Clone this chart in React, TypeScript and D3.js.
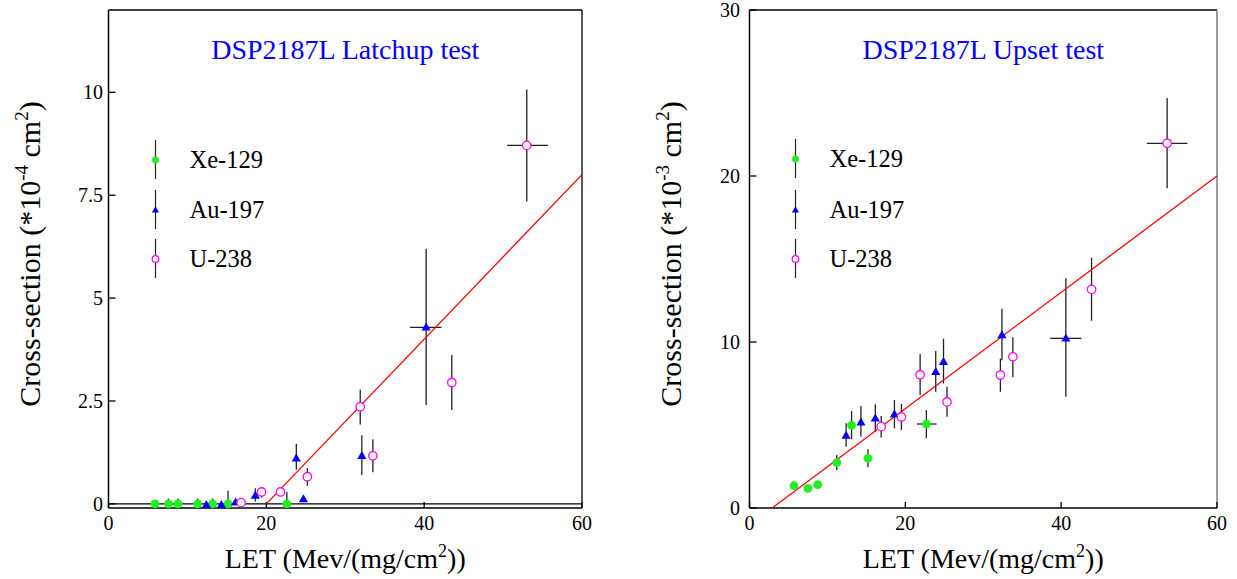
import React from "react";
import * as d3 from "d3";

type Pt = { x: number; y: number; lo?: number; hi?: number; xl?: number; xh?: number };

// ---------- Latchup (x10^-4 cm^2) ----------
const latchXe: Pt[] = [
  { x: 5.9, y: 0 },
  { x: 7.6, y: 0, lo: 0, hi: 0.13 },
  { x: 8.8, y: 0, lo: 0, hi: 0.13 },
  { x: 11.3, y: 0, lo: 0, hi: 0.13 },
  { x: 13.2, y: 0, lo: 0, hi: 0.13 },
  { x: 15.15, y: 0, lo: 0, hi: 0.32 },
  { x: 22.6, y: 0, lo: 0, hi: 0.29 },
];
const latchAu: Pt[] = [
  { x: 12.4, y: -0.02 },
  { x: 14.3, y: -0.02 },
  { x: 16.1, y: 0.04 },
  { x: 18.6, y: 0.2, lo: 0.06, hi: 0.38 },
  { x: 23.8, y: 1.11, lo: 0.83, hi: 1.46 },
  { x: 24.7, y: 0.12 },
  { x: 32.1, y: 1.17, lo: 0.7, hi: 1.67 },
  { x: 40.25, y: 4.29, lo: 2.4, hi: 6.2, xl: 38.2, xh: 42.2 },
];
const latchU: Pt[] = [
  { x: 16.8, y: 0.03 },
  { x: 19.4, y: 0.29, lo: 0.15, hi: 0.39 },
  { x: 21.8, y: 0.29, lo: 0.2, hi: 0.39 },
  { x: 25.2, y: 0.66, lo: 0.44, hi: 0.87 },
  { x: 31.9, y: 2.36, lo: 1.93, hi: 2.78 },
  { x: 33.5, y: 1.17, lo: 0.77, hi: 1.57 },
  { x: 43.5, y: 2.95, lo: 2.28, hi: 3.62 },
  { x: 53.0, y: 8.71, lo: 7.35, hi: 10.07, xl: 50.5, xh: 55.7 },
];
const latchFit: [number, number][] = [[20, 0], [60, 8]];
const latchYTicks = [0, 2.5, 5, 7.5, 10];

// ---------- Upset (x10^-3 cm^2) ----------
const upsetXe: Pt[] = [
  { x: 5.7, y: 1.34 },
  { x: 7.5, y: 1.18 },
  { x: 8.75, y: 1.41 },
  { x: 11.2, y: 2.73, lo: 2.29, hi: 3.19 },
  { x: 13.1, y: 4.98, lo: 4.14, hi: 5.84 },
  { x: 15.2, y: 2.99, lo: 2.45, hi: 3.54 },
  { x: 22.7, y: 5.06, lo: 4.2, hi: 5.9, xl: 21.5, xh: 24.0 },
];
const upsetAu: Pt[] = [
  { x: 12.4, y: 4.36, lo: 3.69, hi: 5.1 },
  { x: 14.3, y: 5.16, lo: 4.3, hi: 6.14 },
  { x: 16.15, y: 5.4, lo: 4.6, hi: 6.25 },
  { x: 18.6, y: 5.64, lo: 4.8, hi: 6.5 },
  { x: 23.9, y: 8.21, lo: 7.0, hi: 9.46 },
  { x: 24.9, y: 8.81, lo: 7.5, hi: 10.2 },
  { x: 32.4, y: 10.42, lo: 8.9, hi: 12.0 },
  { x: 40.6, y: 10.22, lo: 6.7, hi: 13.84, xl: 38.6, xh: 42.6 },
];
const upsetU: Pt[] = [
  { x: 16.9, y: 4.9, lo: 4.24, hi: 5.54 },
  { x: 19.5, y: 5.48, lo: 4.7, hi: 6.27 },
  { x: 21.9, y: 8.03, lo: 6.8, hi: 9.28 },
  { x: 25.35, y: 6.39, lo: 5.5, hi: 7.3 },
  { x: 32.2, y: 8.01, lo: 7.0, hi: 9.0 },
  { x: 33.8, y: 9.11, lo: 7.87, hi: 10.28 },
  { x: 43.9, y: 13.17, lo: 11.28, hi: 15.08 },
  { x: 53.6, y: 21.97, lo: 19.26, hi: 24.7, xl: 51.0, xh: 56.2 },
];
const upsetFit: [number, number][] = [[2.9, 0], [60, 20]];
const upsetYTicks = [0, 10, 20, 30];

const xTicks = [0, 20, 40, 60];
const legendNames = ["Xe-129", "Au-197", "U-238"];

const FONT = "'Liberation Serif', 'Times New Roman', serif";
const GREEN = "#22ee22";
const BLUE = "#0000ff";
const MAGENTA = "#ff00ff";

function Marker({ kind, cx, cy, s = 1 }: { kind: number; cx: number; cy: number; s?: number }) {
  if (kind === 0) return <circle cx={cx} cy={cy} r={4.4 * s} fill={GREEN} />;
  if (kind === 1) {
    const w = 4.6 * s, h = 8 * s;
    return (
      <path
        d={`M${cx},${cy - h * 0.6} L${cx + w},${cy + h * 0.4} L${cx - w},${cy + h * 0.4} Z`}
        fill={BLUE}
      />
    );
  }
  return <circle cx={cx} cy={cy} r={4.2 * s} fill="white" stroke={MAGENTA} strokeWidth={1.3} />;
}

function Panel(props: {
  left: number; right: number; top: number; bottom: number;
  yDomain: [number, number]; yTicks: number[]; yTickFmt: (v: number) => string;
  series: Pt[][]; fit: [number, number][]; title: string; exp: string;
  zeroLine: boolean; legendX: number; legendY: number[]; tickLabelEnd: number;
  rightEdgeColor: string;
}) {
  const x = d3.scaleLinear().domain([0, 60]).range([props.left, props.right]);
  const y = d3.scaleLinear().domain(props.yDomain).range([props.bottom, props.top]);
  const line = d3.line<[number, number]>().x((d) => x(d[0])).y((d) => y(d[1]));
  const cxMid = (props.left + props.right) / 2;
  return (
    <g>
      {/* frame */}
      <line x1={props.left} x2={props.right} y1={props.top} y2={props.top} stroke="#000" strokeWidth={1.3} />
      <line x1={props.right} x2={props.right} y1={props.top} y2={props.bottom} stroke={props.rightEdgeColor} strokeWidth={1.3} />
      <line x1={props.left} x2={props.left} y1={props.top} y2={props.bottom} stroke="#000" strokeWidth={1.5} />
      <line x1={props.left} x2={props.right} y1={props.bottom} y2={props.bottom} stroke="#000" strokeWidth={1.5} />
      {props.zeroLine && (
        <line x1={props.left} x2={props.right} y1={y(0)} y2={y(0)} stroke="#000" strokeWidth={1.3} />
      )}
      {/* y ticks */}
      {props.yTicks.map((t) => (
        <g key={"y" + t}>
          <line x1={props.left} x2={props.left + 7} y1={y(t)} y2={y(t)} stroke="#000" strokeWidth={1.3} />
          <text x={props.tickLabelEnd} y={y(t)} dy="0.35em" textAnchor="end" fontSize={20} fontFamily={FONT}>
            {props.yTickFmt(t)}
          </text>
        </g>
      ))}
      {/* x ticks */}
      {xTicks.map((t) => (
        <g key={"x" + t}>
          <line x1={x(t)} x2={x(t)} y1={props.bottom} y2={props.bottom - 6} stroke="#000" strokeWidth={1.3} />
          <text x={x(t)} y={props.bottom + 22} textAnchor="middle" fontSize={20} fontFamily={FONT}>
            {t}
          </text>
        </g>
      ))}
      {/* title */}
      <text x={cxMid} y={59} textAnchor="middle" fontSize={28} fill={BLUE} fontFamily={FONT}>
        {props.title}
      </text>
      {/* axis labels */}
      <text x={cxMid} y={568} textAnchor="middle" fontSize={28} fontFamily={FONT}>
        LET (Mev/(mg/cm<tspan dy={-11} fontSize={18}>2</tspan><tspan dy={11}>))</tspan>
      </text>
      <text
        transform={`translate(${props.left - 69},${(props.top + props.bottom) / 2 - 5}) rotate(-90)`}
        textAnchor="middle"
        fontSize={30}
        fontFamily={FONT}
      >
        Cross-section (*10<tspan dy={-12} fontSize={19}>{props.exp}</tspan>
        <tspan dy={12}> cm</tspan>
        <tspan dy={-12} fontSize={19}>2</tspan>
        <tspan dy={12}>)</tspan>
      </text>
      {/* error bars */}
      {props.series.map((s, i) =>
        s.map((p, j) => (
          <g key={`e${i}-${j}`}>
            {p.lo !== undefined && p.hi !== undefined && (
              <line x1={x(p.x)} x2={x(p.x)} y1={y(p.lo)} y2={y(p.hi)} stroke="#222" strokeWidth={1.3} />
            )}
            {p.xl !== undefined && p.xh !== undefined && (
              <line x1={x(p.xl)} x2={x(p.xh)} y1={y(p.y)} y2={y(p.y)} stroke="#222" strokeWidth={1.3} />
            )}
          </g>
        ))
      )}
      {/* fit line */}
      <path d={line(props.fit) || ""} stroke="#ff0000" strokeWidth={1.3} fill="none" />
      {/* markers */}
      {props.series.map((s, i) =>
        s.map((p, j) => <Marker key={`m${i}-${j}`} kind={i} cx={x(p.x)} cy={y(p.y)} />)
      )}
      {/* legend */}
      {legendNames.map((n, i) => (
        <g key={n}>
          <line x1={props.legendX} x2={props.legendX} y1={props.legendY[i] - 20} y2={props.legendY[i] + 19} stroke="#222" strokeWidth={1.2} />
          <Marker kind={i} cx={props.legendX} cy={props.legendY[i]} s={0.78} />
          <text x={props.legendX + 34} y={props.legendY[i]} dy="0.33em" fontSize={24.5} fontFamily={FONT}>
            {n}
          </text>
        </g>
      ))}
    </g>
  );
}

export default function App() {
  return (
    <svg width={1237} height={579} style={{ position: "absolute", left: 0, top: 0, background: "#fff" }}>
      <rect width={1237} height={579} fill="#fff" />
      <Panel
        left={108.5} right={582} top={10} bottom={508}
        yDomain={[-0.1, 12]} yTicks={latchYTicks} yTickFmt={(v) => String(v)}
        series={[latchXe, latchAu, latchU]} fit={latchFit}
        title="DSP2187L Latchup test" exp="-4" zeroLine={true}
        legendX={155.5} legendY={[160, 210, 259]} tickLabelEnd={103}
        rightEdgeColor="#000"
      />
      <Panel
        left={749.5} right={1217} top={10} bottom={508}
        yDomain={[0, 30]} yTicks={upsetYTicks} yTickFmt={(v) => String(v)}
        series={[upsetXe, upsetAu, upsetU]} fit={upsetFit}
        title="DSP2187L Upset test" exp="-3" zeroLine={false}
        legendX={795.5} legendY={[159, 210, 259]} tickLabelEnd={740}
        rightEdgeColor="#666"
      />
    </svg>
  );
}
